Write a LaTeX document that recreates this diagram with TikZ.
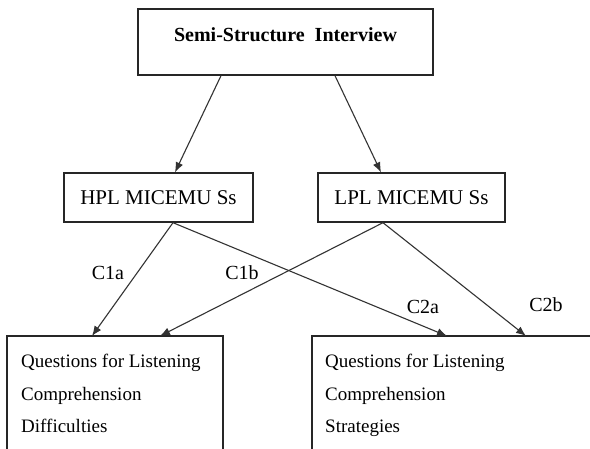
\documentclass[tikz,border=0pt]{standalone}
\usepackage{fontspec}
\setmainfont{Liberation Serif}
\usetikzlibrary{arrows.meta}
\begin{document}
\begin{tikzpicture}[x=1pt,y=-1pt,
  box/.style={draw=black!85, line width=1.4pt, fill=white, inner sep=0pt},
  conn/.style={draw=black!80, line width=1.1pt, -{Latex[length=10pt,width=8pt]}},
  lbl/.style={font=\fontsize{20}{24}\selectfont, inner sep=0pt},
  midtxt/.style={font=\fontsize{21}{25}\selectfont, inner sep=0pt},
  bottxt/.style={font=\fontsize{19}{23}\selectfont, inner sep=0pt, anchor=base west}]
\useasboundingbox (0,0) rectangle (590,449);
\clip (0,0) rectangle (590,449);
\fill[white] (0,0) rectangle (590,449);
% top
\node[box, minimum width=295pt, minimum height=66pt] (top) at (285.5,42) {};
\node[font=\fontsize{20}{24}\selectfont\bfseries, inner sep=0pt] (title) at (285.5,35) {Semi-Structure\ \ Interview};
% middle
\node[box, minimum width=189pt, minimum height=49pt] (hpl) at (158.5,197.5) {};
\node[midtxt] (hpltxt) at (158.5,198) {HPL MICEMU Ss};
\node[box, minimum width=187pt, minimum height=49pt] (lpl) at (411.5,197.5) {};
\node[midtxt] (lpltxt) at (411.5,198) {LPL MICEMU Ss};
% bottom
\node[box, minimum width=216pt, minimum height=150pt] (diff) at (115,411) {};
\node[bottxt] (d1) at (21,368) {Questions for Listening};
\node[bottxt] (d2) at (21,401) {Comprehension};
\node[bottxt] (d3) at (21,433) {Difficulties};
\node[box, minimum width=300pt, minimum height=150pt] (strat) at (462,411) {};
\node[bottxt] (s1) at (325,368) {Questions for Listening};
\node[bottxt] (s2) at (325,401) {Comprehension};
\node[bottxt] (s3) at (325,433) {Strategies};
% connectors top -> middle
\draw[conn] ([xshift=-64.5pt]top.south) -- ([xshift=16.5pt]hpl.north);
\draw[conn] ([xshift=49.5pt]top.south) -- ([xshift=-30.5pt]lpl.north);
% connectors middle -> bottom
\coordinate (hs) at ([xshift=14.5pt]hpl.south);
\coordinate (ls) at ([xshift=-28.5pt]lpl.south);
\draw[conn] (hs) -- (92,336) coordinate (c1a);
\draw[conn] (ls) -- (160,336) coordinate (c1b);
\draw[conn] (hs) -- (447,336) coordinate (c2a);
\draw[conn] (ls) -- (526,336) coordinate (c2b);
% labels
\node[lbl] (l1a) at (108,273) {C1a};
\node[lbl] (l1b) at (242,273) {C1b};
\node[lbl] (l2a) at (423,307) {C2a};
\node[lbl] (l2b) at (546,305) {C2b};
\end{tikzpicture}
\end{document}
